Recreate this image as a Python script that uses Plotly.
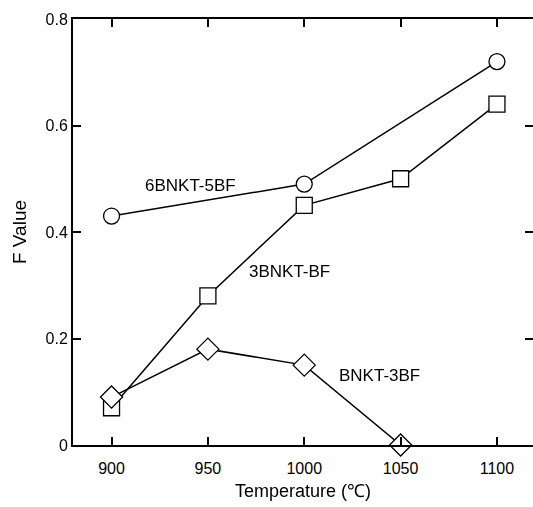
import plotly.graph_objects as go

temps_a = [900, 1000, 1100]
f_6bnkt_5bf = [0.43, 0.49, 0.72]
temps_b = [900, 950, 1000, 1050, 1100]
f_3bnkt_bf = [0.07, 0.28, 0.45, 0.50, 0.64]
temps_c = [900, 950, 1000, 1050]
f_bnkt_3bf = [0.09, 0.18, 0.15, 0.0]
x_ticks = [900, 950, 1000, 1050, 1100]
y_ticks = [0, 0.2, 0.4, 0.6, 0.8]
y_tick_labels = ["0", "0.2", "0.4", "0.6", "0.8"]
series_labels = ["6BNKT-5BF", "3BNKT-BF", "BNKT-3BF"]

font = "Liberation Sans, Arial, sans-serif"
fig = go.Figure()
common_line = dict(color="black", width=1.5)
fig.add_trace(go.Scatter(x=temps_a, y=f_6bnkt_5bf, mode="lines+markers", line=common_line, cliponaxis=False,
                         marker=dict(symbol="circle", size=16, color="white", line=dict(color="black", width=1.3))))
fig.add_trace(go.Scatter(x=temps_b, y=f_3bnkt_bf, mode="lines+markers", line=common_line, cliponaxis=False,
                         marker=dict(symbol="square", size=16, color="white", line=dict(color="black", width=1.3))))
fig.add_trace(go.Scatter(x=temps_c, y=f_bnkt_3bf, mode="lines+markers", line=common_line, cliponaxis=False,
                         marker=dict(symbol="diamond", size=17, color="white", line=dict(color="black", width=1.3))))
# invisible helper trace so the right-hand tick axis is drawn
fig.add_trace(go.Scatter(x=temps_a, y=f_6bnkt_5bf, yaxis="y2", mode="markers", opacity=0,
                         hoverinfo="skip", showlegend=False))

label_pos = [(941.2, 0.488), (992.6, 0.325), (1039.3, 0.131)]
for t, (x, y) in zip(series_labels, label_pos):
    fig.add_annotation(x=x, y=y, text=t, showarrow=False, font=dict(family=font, size=17, color="black"))

fig.update_layout(
    width=533, height=507,
    margin=dict(l=73, r=0, t=19, b=62),
    plot_bgcolor="white", paper_bgcolor="white",
    showlegend=False,
    font=dict(family=font, size=16, color="black"),
    yaxis2=dict(overlaying="y", side="right", range=[0, 0.8], tickvals=y_ticks, ticks="inside",
                ticklen=8, tickwidth=2, tickcolor="black", showticklabels=False, showline=False,
                showgrid=False, zeroline=False),
)
fig.update_xaxes(range=[880, 1118.7], tickvals=x_ticks, ticks="inside", ticklen=8, tickwidth=2,
                 tickcolor="black", showline=True, linecolor="black", linewidth=2, mirror="ticks",
                 showgrid=False, zeroline=False, ticklabelstandoff=8,
                 title=dict(text="Temperature (℃)", font=dict(size=18), standoff=8))
fig.update_layout(yaxis=dict(range=[0, 0.8], tickvals=y_ticks, ticktext=y_tick_labels, ticks="inside", ticklen=8,
                             tickwidth=2, tickcolor="black", showline=True, linecolor="black", linewidth=2,
                             mirror=False, showgrid=False, zeroline=False,
                             title=dict(text="F Value", font=dict(size=19), standoff=14)))
fig.write_html("out.html", config={"displayModeBar": False},
               post_script="document.body.style.margin='0px';document.body.style.overflow='hidden';"
                           "document.documentElement.style.overflow='hidden';")
